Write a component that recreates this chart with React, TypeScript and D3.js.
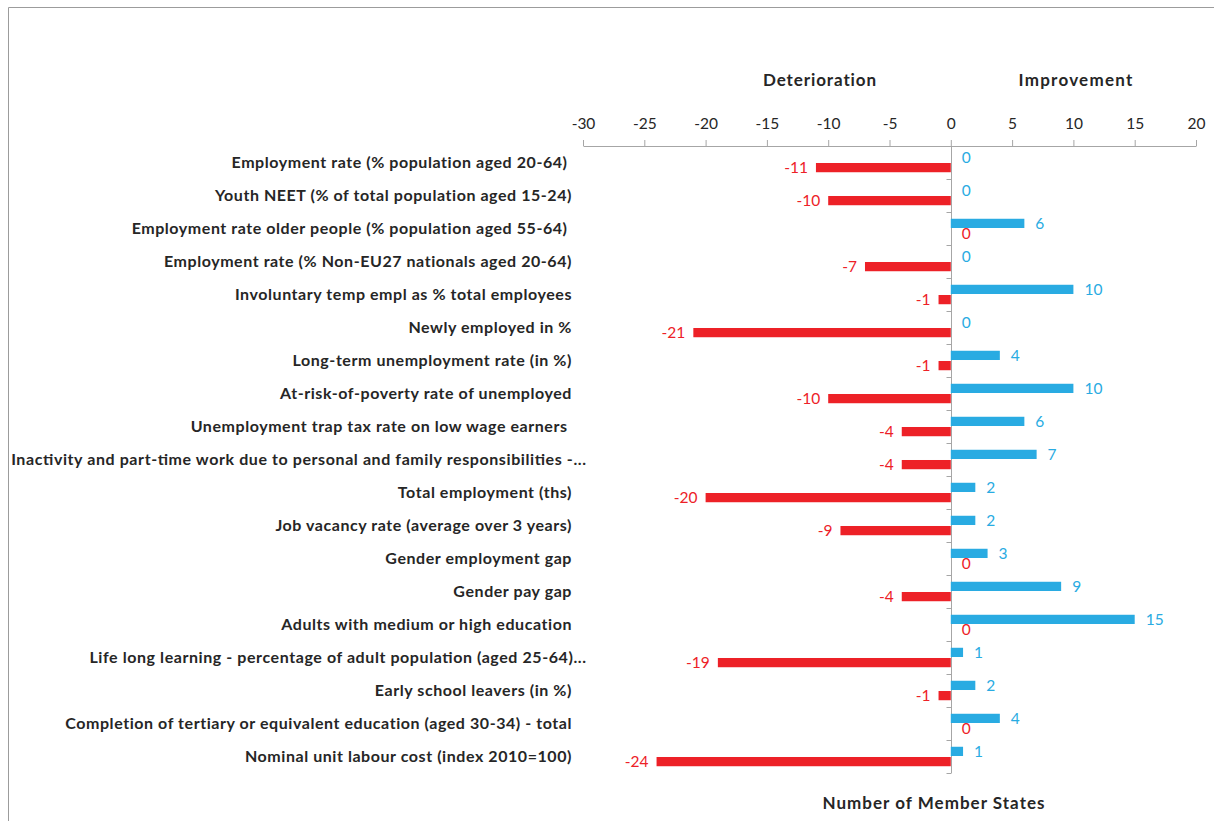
import React, { useRef, useEffect } from 'react';
import * as d3 from 'd3';

// Indicators, top to bottom
const categories = [
  'Employment rate (% population aged 20-64) ',
  'Youth NEET (% of total population aged 15-24)',
  'Employment rate older people (% population aged 55-64) ',
  'Employment rate (% Non-EU27 nationals aged 20-64)',
  'Involuntary temp empl as % total employees',
  'Newly employed in %',
  'Long-term unemployment rate (in %)',
  'At-risk-of-poverty rate of unemployed',
  'Unemployment trap tax rate on low wage earners ',
  'Inactivity and part-time work due to personal and family responsibilities -...',
  'Total employment (ths)',
  'Job vacancy rate (average over 3 years)',
  'Gender employment gap',
  'Gender pay gap',
  'Adults with medium or high education',
  'Life long learning - percentage of adult population (aged 25-64)...',
  'Early school leavers (in %)',
  'Completion of tertiary or equivalent education (aged 30-34) - total',
  'Nominal unit labour cost (index 2010=100)',
];

// Number of Member States
const improvement = [0, 0, 6, 0, 10, 0, 4, 10, 6, 7, 2, 2, 3, 9, 15, 1, 2, 4, 1];
const deterioration = [-11, -10, 0, -7, -1, -21, -1, -10, -4, -4, -20, -9, 0, -4, 0, -19, -1, 0, -24];

const xTicks = [-30, -25, -20, -15, -10, -5, 0, 5, 10, 15, 20];

const RED = '#ED2127';
const BLUE = '#29ABE2';
const AXIS = '#A6A6A6';
const INK = '#262626';
const FONT = 'Lato, "Open Sans", sans-serif';

// letter spacing that brings a text element to a target width
function spacingFor(node: SVGTextElement, target: number) {
  const n = (node.textContent || '').length;
  let ls = 0;
  for (let k = 0; k < 4; k++) {
    node.setAttribute('letter-spacing', String(ls));
    const w = node.getBBox().width;
    ls += (target - w) / n;
  }
  node.setAttribute('letter-spacing', String(ls));
  return ls;
}

export default function App() {
  const svgRef = useRef<SVGSVGElement>(null);

  useEffect(() => {
    document.body.style.margin = '0';
    if (!svgRef.current) return;
    const svg = d3.select(svgRef.current);
    svg.selectAll('*').remove();

    const W = 1214, H = 821;
    const top = 146, bottom = 773;

    const x = d3.scaleLinear().domain([-30, 20]).range([583, 1196]);
    const y = d3.scaleBand<number>()
      .domain(d3.range(categories.length))
      .range([top, bottom]);
    const band = y.bandwidth();
    const barH = band * 0.28;
    const gap = band * 0.03;

    // frame
    svg.append('path')
      .attr('d', `M8.5,${H} L8.5,7.5 L${W},7.5`)
      .attr('fill', 'none')
      .attr('stroke', '#9c9c9c')
      .attr('stroke-width', 1);

    // headings
    const heading = (tx: number, ty: number, label: string, width: number) => {
      const t = svg.append('text').attr('x', tx).attr('y', ty)
        .attr('text-anchor', 'middle').attr('font-family', FONT)
        .attr('font-weight', 'bold').attr('font-size', 17).attr('fill', INK)
        .text(label);
      spacingFor(t.node() as SVGTextElement, width);
    };
    heading(820, 86, 'Deterioration', 114);
    heading(1076, 86, 'Improvement', 115);
    heading(934, 809, 'Number of Member States', 223);

    // top axis
    const xAxis = svg.append('g')
      .attr('transform', `translate(0,${top})`)
      .call(d3.axisTop(x).tickValues(xTicks).tickSize(6).tickSizeOuter(0).tickPadding(11).tickFormat(d3.format('d')));
    xAxis.select('.domain').attr('stroke', AXIS);
    xAxis.selectAll('line').attr('stroke', AXIS);
    xAxis.selectAll('text')
      .attr('font-family', FONT).attr('font-size', 15.5).attr('fill', INK)
      .text((d: any) => String(d).replace('−', '-'));

    // vertical zero axis with category ticks
    const zx = Math.round(x(0)) + 0.5;
    svg.append('line').attr('x1', zx).attr('x2', zx).attr('y1', top).attr('y2', bottom)
      .attr('stroke', AXIS);
    d3.range(1, categories.length + 1).forEach(i => {
      const yy = Math.round(top + i * band) + 0.5;
      svg.append('line').attr('x1', zx - 5).attr('x2', zx).attr('y1', yy).attr('y2', yy)
        .attr('stroke', AXIS);
    });

    // category labels
    const labels = svg.append('g').selectAll('text').data(categories).join('text')
      .attr('x', 572)
      .attr('y', (_, i) => (y(i) as number) + band / 2)
      .attr('dy', '0.35em')
      .attr('text-anchor', 'end')
      .attr('xml:space', 'preserve')
      .attr('font-family', FONT)
      .attr('font-weight', 'bold')
      .attr('font-size', 16)
      .attr('fill', INK)
      .text(d => d);
    const ls = spacingFor(labels.nodes()[9] as SVGTextElement, 574);
    labels.attr('letter-spacing', ls);

    // truncated labels run a little past the others, as in the original
    labels.filter(d => d.endsWith('...'))
      .attr('letter-spacing', 0)
      .attr('x', 586)
      .attr('lengthAdjust', 'spacing')
      .attr('textLength', function () {
        const node = this as SVGTextElement;
        return Math.min(575, node.getComputedTextLength() + ls * (node.textContent || '').length);
      });

    const blueY = (i: number) => (y(i) as number) + band / 2 - gap / 2 - barH;
    const redY = (i: number) => (y(i) as number) + band / 2 + gap / 2;

    // improvement bars
    svg.append('g').selectAll('rect').data(improvement).join('rect')
      .attr('x', x(0))
      .attr('y', (_, i) => blueY(i))
      .attr('width', d => x(d) - x(0))
      .attr('height', barH)
      .attr('fill', BLUE);

    // deterioration bars
    svg.append('g').selectAll('rect').data(deterioration).join('rect')
      .attr('x', d => x(d))
      .attr('y', (_, i) => redY(i))
      .attr('width', d => x(0) - x(d))
      .attr('height', barH)
      .attr('fill', RED);

    // value labels
    svg.append('g').selectAll('text').data(improvement).join('text')
      .attr('x', d => x(d) + 11)
      .attr('y', (_, i) => blueY(i) + barH / 2)
      .attr('dy', '0.35em')
      .attr('font-family', FONT).attr('font-size', 15.5).attr('fill', BLUE)
      .text(d => String(d));

    svg.append('g').selectAll('text').data(deterioration).join('text')
      .attr('x', d => (d === 0 ? x(0) + 11 : x(d) - 8))
      .attr('y', (_, i) => redY(i) + barH / 2)
      .attr('dy', '0.35em')
      .attr('text-anchor', d => (d === 0 ? 'start' : 'end'))
      .attr('font-family', FONT).attr('font-size', 15.5).attr('fill', RED)
      .text(d => String(d));
  }, []);

  return <svg ref={svgRef} width={1214} height={821} style={{ display: 'block', background: '#fff' }} />;
}
